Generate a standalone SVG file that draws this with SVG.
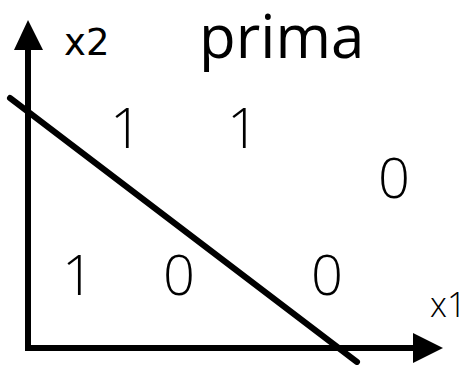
<svg xmlns="http://www.w3.org/2000/svg" width="470" height="365" viewBox="0 0 470 365">
<style>
.ax{stroke:#000;stroke-width:6;fill:none}
.dg{stroke:#000;stroke-width:6;fill:none;stroke-linecap:round}
.ah{fill:#000}
.n{font-family:"Open Sans","Noto Sans",sans-serif;font-weight:300;font-size:56px;fill:#000;text-anchor:middle}
.t{font-family:"Open Sans","Noto Sans",sans-serif;font-size:60px;fill:#000}
.l1{font-family:"Open Sans","Noto Sans",sans-serif;font-weight:300;font-size:34px;fill:#000}
.l2{font-family:"DejaVu Sans",Verdana,sans-serif;font-size:37px;fill:#000}
</style>
<g id="connectors">
<path class="ax" d="M28,48 V348 H415"/>
<polygon class="ah" points="28,20 14,50 43,50"/>
<polygon class="ah" points="443,348 413,333 413,363"/>
<line class="dg" x1="10" y1="98" x2="357" y2="362"/>
</g>
<g id="title"><text class="t" x="199" y="58">prima</text></g>
<g id="label-x2"><text class="l2" x="64" y="55">x2</text></g>
<g id="label-x1"><text class="l1" x="430" y="317">x1</text></g>
<g id="v1"><text class="n" x="126" y="148">1</text></g>
<g id="v2"><text class="n" x="243" y="148">1</text></g>
<g id="v3"><text class="n" x="394" y="198">0</text></g>
<g id="v4"><text class="n" x="78" y="295">1</text></g>
<g id="v5"><text class="n" x="179" y="295">0</text></g>
<g id="v6"><text class="n" x="327" y="295">0</text></g>
</svg>
